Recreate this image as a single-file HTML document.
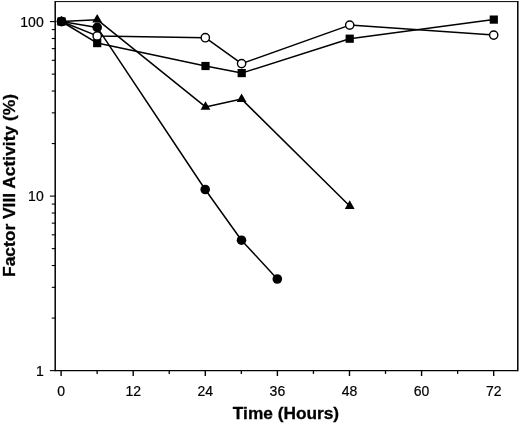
<!DOCTYPE html>
<html><head><meta charset="utf-8"><title>Factor VIII Activity</title>
<style>html,body{margin:0;padding:0;background:#fff;}svg{display:block;}</style>
</head><body>
<svg width="520" height="424" viewBox="0 0 520 424">
<rect x="0" y="0" width="520" height="424" fill="#fff"/>
<g stroke="#000" fill="none" stroke-linecap="butt">
<line x1="55.2" y1="1.1" x2="55.2" y2="371.20000000000005" stroke-width="1.5"/>
<line x1="517.8" y1="1.1" x2="517.8" y2="371.20000000000005" stroke-width="1.5"/>
<line x1="55.2" y1="1.6" x2="517.8" y2="1.6" stroke-width="1"/>
<line x1="55.2" y1="370.6" x2="517.8" y2="370.6" stroke-width="1.2"/>
<line x1="49.9" y1="370.60" x2="55.2" y2="370.60" stroke-width="1.1"/>
<line x1="51.8" y1="318.07" x2="55.2" y2="318.07" stroke-width="1.1"/>
<line x1="51.8" y1="287.34" x2="55.2" y2="287.34" stroke-width="1.1"/>
<line x1="51.8" y1="265.54" x2="55.2" y2="265.54" stroke-width="1.1"/>
<line x1="51.8" y1="248.63" x2="55.2" y2="248.63" stroke-width="1.1"/>
<line x1="51.8" y1="234.81" x2="55.2" y2="234.81" stroke-width="1.1"/>
<line x1="51.8" y1="223.13" x2="55.2" y2="223.13" stroke-width="1.1"/>
<line x1="51.8" y1="213.01" x2="55.2" y2="213.01" stroke-width="1.1"/>
<line x1="51.8" y1="204.08" x2="55.2" y2="204.08" stroke-width="1.1"/>
<line x1="49.9" y1="196.10" x2="55.2" y2="196.10" stroke-width="1.1"/>
<line x1="51.8" y1="143.57" x2="55.2" y2="143.57" stroke-width="1.1"/>
<line x1="51.8" y1="112.84" x2="55.2" y2="112.84" stroke-width="1.1"/>
<line x1="51.8" y1="91.04" x2="55.2" y2="91.04" stroke-width="1.1"/>
<line x1="51.8" y1="74.13" x2="55.2" y2="74.13" stroke-width="1.1"/>
<line x1="51.8" y1="60.31" x2="55.2" y2="60.31" stroke-width="1.1"/>
<line x1="51.8" y1="48.63" x2="55.2" y2="48.63" stroke-width="1.1"/>
<line x1="51.8" y1="38.51" x2="55.2" y2="38.51" stroke-width="1.1"/>
<line x1="51.8" y1="29.58" x2="55.2" y2="29.58" stroke-width="1.1"/>
<line x1="49.9" y1="21.60" x2="55.2" y2="21.60" stroke-width="1.1"/>
<line x1="61.10" y1="370.6" x2="61.10" y2="376.00" stroke-width="1.4"/>
<line x1="97.15" y1="370.6" x2="97.15" y2="373.90" stroke-width="1.3"/>
<line x1="133.20" y1="370.6" x2="133.20" y2="376.00" stroke-width="1.4"/>
<line x1="169.24" y1="370.6" x2="169.24" y2="373.90" stroke-width="1.3"/>
<line x1="205.29" y1="370.6" x2="205.29" y2="376.00" stroke-width="1.4"/>
<line x1="241.34" y1="370.6" x2="241.34" y2="373.90" stroke-width="1.3"/>
<line x1="277.39" y1="370.6" x2="277.39" y2="376.00" stroke-width="1.4"/>
<line x1="313.44" y1="370.6" x2="313.44" y2="373.90" stroke-width="1.3"/>
<line x1="349.48" y1="370.6" x2="349.48" y2="376.00" stroke-width="1.4"/>
<line x1="385.53" y1="370.6" x2="385.53" y2="373.90" stroke-width="1.3"/>
<line x1="421.58" y1="370.6" x2="421.58" y2="376.00" stroke-width="1.4"/>
<line x1="457.63" y1="370.6" x2="457.63" y2="373.90" stroke-width="1.3"/>
<line x1="493.68" y1="370.6" x2="493.68" y2="376.00" stroke-width="1.4"/>
</g>
<g stroke="#000" stroke-width="1.5" fill="none" stroke-linejoin="round">
<polyline points="61.5,21.5 97.2,43.1 205.5,66.0 241.7,73.1 349.7,38.7 493.8,19.6"/>
<polyline points="61.5,21.5 97.2,35.9 205.3,37.7 241.6,63.6 349.7,25.1 493.7,35.1"/>
<polyline points="61.5,21.5 97.2,19.7 205.5,106.9 241.6,99.1 349.7,206.0"/>
<polyline points="61.5,21.5 97.2,27.4 205.2,189.5 241.5,240.2 277.3,279.0"/>
</g>
<rect x="57.4" y="17.4" width="8.2" height="8.2" fill="#000"/>
<rect x="93.1" y="39.0" width="8.2" height="8.2" fill="#000"/>
<rect x="201.4" y="61.9" width="8.2" height="8.2" fill="#000"/>
<rect x="237.6" y="69.0" width="8.2" height="8.2" fill="#000"/>
<rect x="345.6" y="34.6" width="8.2" height="8.2" fill="#000"/>
<rect x="489.7" y="15.5" width="8.2" height="8.2" fill="#000"/>
<polygon points="61.5,15.8 56.6,24.4 66.4,24.4" fill="#000"/>
<polygon points="97.2,14.0 92.3,22.6 102.1,22.6" fill="#000"/>
<polygon points="205.5,101.2 200.6,109.8 210.4,109.8" fill="#000"/>
<polygon points="241.6,93.4 236.7,102.0 246.5,102.0" fill="#000"/>
<polygon points="349.7,200.3 344.8,208.9 354.6,208.9" fill="#000"/>
<circle cx="61.5" cy="21.5" r="4.15" fill="#fff" stroke="#000" stroke-width="1.4"/>
<circle cx="97.2" cy="35.9" r="4.15" fill="#fff" stroke="#000" stroke-width="1.4"/>
<circle cx="205.3" cy="37.7" r="4.15" fill="#fff" stroke="#000" stroke-width="1.4"/>
<circle cx="241.6" cy="63.6" r="4.15" fill="#fff" stroke="#000" stroke-width="1.4"/>
<circle cx="349.7" cy="25.1" r="4.15" fill="#fff" stroke="#000" stroke-width="1.4"/>
<circle cx="493.7" cy="35.1" r="4.15" fill="#fff" stroke="#000" stroke-width="1.4"/>
<circle cx="61.5" cy="21.5" r="4.8" fill="#000"/>
<circle cx="97.2" cy="27.4" r="4.8" fill="#000"/>
<circle cx="205.2" cy="189.5" r="4.8" fill="#000"/>
<circle cx="241.5" cy="240.2" r="4.8" fill="#000"/>
<circle cx="277.3" cy="279.0" r="4.8" fill="#000"/>
<g font-family="'Liberation Sans', Arial, sans-serif" fill="#000">
<text x="43.7" y="26.5" font-size="14" text-anchor="end" stroke="#000" stroke-width="0.2">100</text>
<text x="43.7" y="201.0" font-size="14" text-anchor="end" stroke="#000" stroke-width="0.2">10</text>
<text x="43.7" y="375.5" font-size="14" text-anchor="end" stroke="#000" stroke-width="0.2">1</text>
<text x="61.1" y="395.7" font-size="14" text-anchor="middle" stroke="#000" stroke-width="0.2">0</text>
<text x="133.2" y="395.7" font-size="14" text-anchor="middle" stroke="#000" stroke-width="0.2">12</text>
<text x="205.3" y="395.7" font-size="14" text-anchor="middle" stroke="#000" stroke-width="0.2">24</text>
<text x="277.4" y="395.7" font-size="14" text-anchor="middle" stroke="#000" stroke-width="0.2">36</text>
<text x="349.5" y="395.7" font-size="14" text-anchor="middle" stroke="#000" stroke-width="0.2">48</text>
<text x="421.6" y="395.7" font-size="14" text-anchor="middle" stroke="#000" stroke-width="0.2">60</text>
<text x="493.7" y="395.7" font-size="14" text-anchor="middle" stroke="#000" stroke-width="0.2">72</text>
<text x="286.0" y="419.3" font-size="17.3" font-weight="bold" text-anchor="middle" stroke="#000" stroke-width="0.3">Time (Hours)</text>
<text transform="translate(14.8,185.5) rotate(-90)" font-size="17.4" font-weight="bold" text-anchor="middle" stroke="#000" stroke-width="0.3">Factor VIII Activity (%)</text>
</g>
</svg>
</body></html>
